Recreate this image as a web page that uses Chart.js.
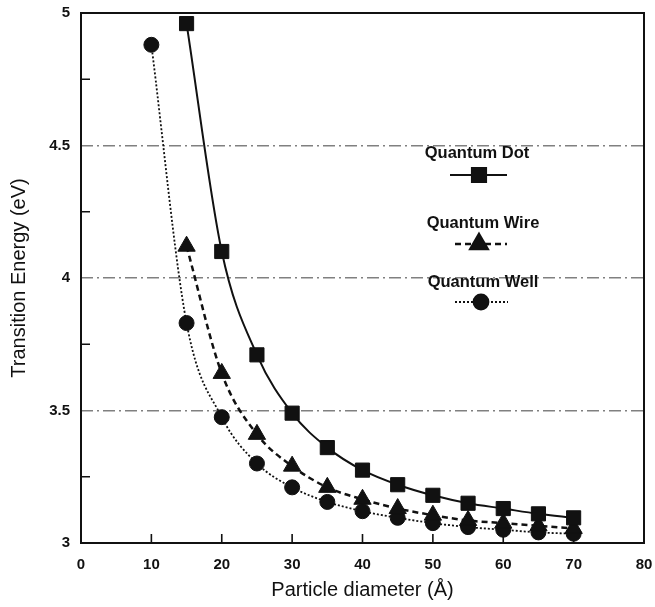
<!DOCTYPE html>
<html>
<head>
<meta charset="utf-8">
<script src="https://cdn.jsdelivr.net/npm/chart.js@4.4.1/dist/chart.umd.min.js"></script>
<style>
  html, body { margin: 0; padding: 0; background: #fff; }
  #wrap { width: 655px; height: 607px; }
</style>
</head>
<body>
<div id="wrap"><canvas id="energyChart" width="655" height="607"></canvas></div>
<script>
// particle diameters (Å) and transition energies (eV)
const dotDiameters = [15, 20, 25, 30, 35, 40, 45, 50, 55, 60, 65, 70];
const dotEnergy = [4.96, 4.10, 3.71, 3.49, 3.36, 3.275, 3.22, 3.18, 3.15, 3.13, 3.11, 3.095];

const wireDiameters = [15, 20, 25, 30, 35, 40, 45, 50, 55, 60, 65, 70];
const wireEnergy = [4.12, 3.64, 3.41, 3.29, 3.21, 3.165, 3.13, 3.105, 3.085, 3.075, 3.065, 3.055];

const wellDiameters = [10, 15, 20, 25, 30, 35, 40, 45, 50, 55, 60, 65, 70];
const wellEnergy = [4.88, 3.83, 3.475, 3.30, 3.21, 3.155, 3.12, 3.095, 3.075, 3.06, 3.05, 3.04, 3.035];

const seriesNames = ['Quantum Dot', 'Quantum Wire', 'Quantum Well'];
const xTicks = [0, 10, 20, 30, 40, 50, 60, 70, 80];
const yMajor = [3, 3.5, 4, 4.5, 5];
const yMinor = [3.25, 3.75, 4.25, 4.75];

const FONT = "'Liberation Sans', Arial, Helvetica, sans-serif";
const INK = '#111';

function points(xs, ys) {
  return xs.map((x, i) => ({ x: x, y: ys[i] }));
}

const styles = [
  { pointStyle: 'rect', radius: 10, dash: [], width: 2 },
  { pointStyle: 'triangle', radius: 10, dash: [6, 4], width: 2.5 },
  { pointStyle: 'circle', radius: 7.5, dash: [2, 2], width: 1.8 }
];

// legend entries sit inside the plot, text above a short sample line
const legendSpots = [
  { tx: 477, ty: 153, ly: 175, x0: 450, x1: 507, mx: 479 },
  { tx: 483, ty: 223, ly: 244, x0: 455, x1: 507, mx: 479 },
  { tx: 483, ty: 282, ly: 302, x0: 455, x1: 508, mx: 481 }
];

const framePlugin = {
  id: 'frame',
  beforeDatasetsDraw(chart) {
    const ctx = chart.ctx;
    const a = chart.chartArea;
    const xs = chart.scales.x, ys = chart.scales.y;
    ctx.save();
    ctx.strokeStyle = INK;
    ctx.lineWidth = 1.6;
    ctx.beginPath();
    xTicks.forEach(v => {
      const px = xs.getPixelForValue(v);
      ctx.moveTo(px, a.bottom);
      ctx.lineTo(px, a.bottom - 9);
    });
    yMinor.forEach(v => {
      const py = ys.getPixelForValue(v);
      ctx.moveTo(a.left, py);
      ctx.lineTo(a.left + 9, py);
    });
    ctx.stroke();
    ctx.lineWidth = 2;
    ctx.strokeRect(a.left, a.top, a.right - a.left, a.bottom - a.top);
    ctx.restore();
  },
  afterDraw(chart) {
    const ctx = chart.ctx;
    ctx.save();
    ctx.font = 'bold 16.5px ' + FONT;
    ctx.fillStyle = INK;
    ctx.textAlign = 'center';
    ctx.textBaseline = 'middle';
    seriesNames.forEach((name, i) => {
      const s = styles[i], p = legendSpots[i];
      ctx.fillText(name, p.tx, p.ty);
      ctx.strokeStyle = INK;
      ctx.lineWidth = s.width;
      ctx.setLineDash(s.dash);
      ctx.beginPath();
      ctx.moveTo(p.x0, p.ly);
      ctx.lineTo(p.x1, p.ly);
      ctx.stroke();
      ctx.setLineDash([]);
      ctx.fillStyle = INK;
      Chart.helpers.drawPoint(ctx, { pointStyle: s.pointStyle, radius: s.radius, rotation: 0, borderWidth: 1 }, p.mx, p.ly);
      ctx.fill();
    });
    ctx.restore();
  }
};

const datasets = [
  points(dotDiameters, dotEnergy),
  points(wireDiameters, wireEnergy),
  points(wellDiameters, wellEnergy)
].map((data, i) => ({
  label: seriesNames[i],
  data: data,
  borderColor: INK,
  backgroundColor: INK,
  borderWidth: styles[i].width,
  borderDash: styles[i].dash,
  pointStyle: styles[i].pointStyle,
  pointRadius: styles[i].radius,
  pointBorderWidth: 1,
  cubicInterpolationMode: 'monotone',
  fill: false
}));

new Chart(document.getElementById('energyChart'), {
  type: 'line',
  data: { datasets: datasets },
  plugins: [framePlugin],
  options: {
    responsive: false,
    animation: false,
    layout: { padding: { left: 0, top: 13, right: 10, bottom: 0 } },
    plugins: { legend: { display: false }, tooltip: { enabled: false } },
    scales: {
      x: {
        type: 'linear',
        min: 0,
        max: 80,
        afterFit(scale) {
          scale.height = 64;
          scale.paddingLeft = 0;
          scale.paddingRight = 0;
        },
        afterBuildTicks(scale) { scale.ticks = xTicks.map(v => ({ value: v })); },
        grid: { display: false },
        border: { display: false },
        ticks: { color: INK, font: { family: FONT, size: 15, weight: 'bold' }, padding: 5, maxRotation: 0 },
        title: {
          display: true,
          text: 'Particle diameter (Å)',
          color: INK,
          font: { family: FONT, size: 20 },
          padding: { top: 0, bottom: 5 }
        }
      },
      y: {
        min: 3,
        max: 5,
        afterFit(scale) {
          scale.width = 81;
          scale.paddingTop = 0;
          scale.paddingBottom = 0;
        },
        afterBuildTicks(scale) { scale.ticks = yMajor.map(v => ({ value: v })); },
        grid: {
          drawTicks: false,
          lineWidth: 1.4,
          color: c => (c.tick && c.tick.value > 3 && c.tick.value < 5) ? '#808080' : 'rgba(0,0,0,0)'
        },
        border: { display: false, dash: [12, 4, 2, 4] },
        ticks: {
          color: INK,
          font: { family: FONT, size: 15, weight: 'bold' },
          padding: 11,
          callback: v => String(v)
        },
        title: {
          display: true,
          text: 'Transition Energy (eV)',
          color: INK,
          font: { family: FONT, size: 20 },
          padding: { top: 7, bottom: 0 }
        }
      }
    }
  }
});
</script>
</body>
</html>
